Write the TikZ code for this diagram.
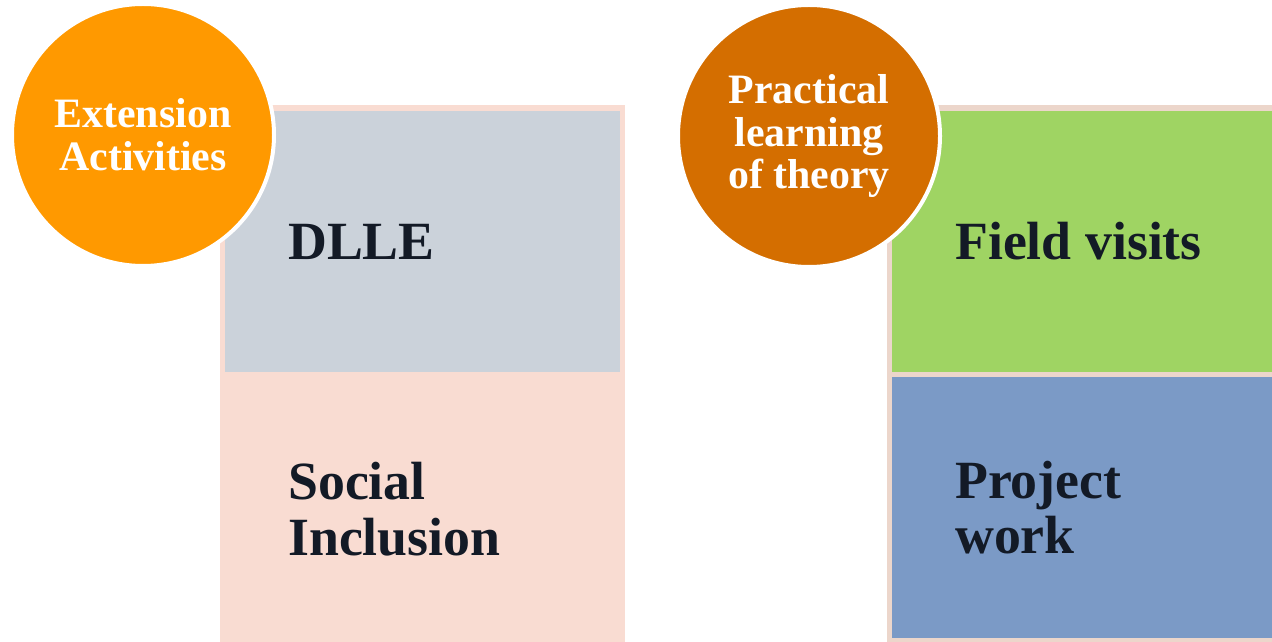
\documentclass[tikz,border=0pt]{standalone}
\usepackage{fontspec}
\setmainfont{Liberation Serif}
\usepackage{xcolor}
\usepackage{tikz}
\definecolor{slate}{RGB}{203, 210, 218}
\definecolor{blush}{RGB}{249, 220, 210}
\definecolor{blushline}{RGB}{236, 214, 203}
\definecolor{meadow}{RGB}{159, 212, 99}
\definecolor{steel}{RGB}{123, 154, 198}
\definecolor{amber}{RGB}{255, 153, 0}
\definecolor{rust}{RGB}{212, 110, 0}
\definecolor{ink}{RGB}{19, 26, 38}

\tikzset{
    panel/.style={rectangle, draw=none, inner sep=0pt, outer sep=0pt, anchor=north west},
    boxtext/.style={anchor=west, align=left, text=ink, inner sep=0pt,
        font=\fontsize{54}{56}\selectfont\bfseries},
    badge/.style={circle, draw=white, line width=4bp, minimum size=262bp, inner sep=0pt,
        align=center, text=white, font=\fontsize{42}{43}\selectfont\bfseries}
}

\begin{document}
\begin{tikzpicture}[x=1bp, y=-1bp]
    \useasboundingbox (0,0) rectangle (1272,642);

    % Extension activities panel
    \node[panel, fill=blush, minimum width=405bp, minimum height=537bp] (leftframe) at (220,105) {};
    \node[panel, fill=slate, minimum width=395bp, minimum height=261bp] (dlle) at (225,111) {};
    \node[boxtext] (dlletext) at ([xshift=63bp]dlle.west) {DLLE};
    \coordinate (inclmid) at (225,509);
    \node[boxtext] (incltext) at ([xshift=63bp]inclmid) {Social\\Inclusion};

    % Practical learning panel
    \node[panel, fill=blushline, minimum width=385bp, minimum height=537bp] (rightframe) at (887,105) {};
    \node[panel, fill=meadow, minimum width=380bp, minimum height=261bp] (field) at (892,111) {};
    \node[boxtext] (fieldtext) at ([xshift=63bp]field.west) {Field visits};
    \node[panel, fill=steel, minimum width=380bp, minimum height=261bp] (project) at (892,377) {};
    \node[boxtext] (projecttext) at ([xshift=63bp]project.west) {Project\\work};

    % Badges
    \node[badge, fill=amber] (extension) at (143,135) {Extension\\Activities};
    \node[badge, fill=rust] (practical) at (809,136) {Practical\\learning\\of theory};
\end{tikzpicture}
\end{document}
